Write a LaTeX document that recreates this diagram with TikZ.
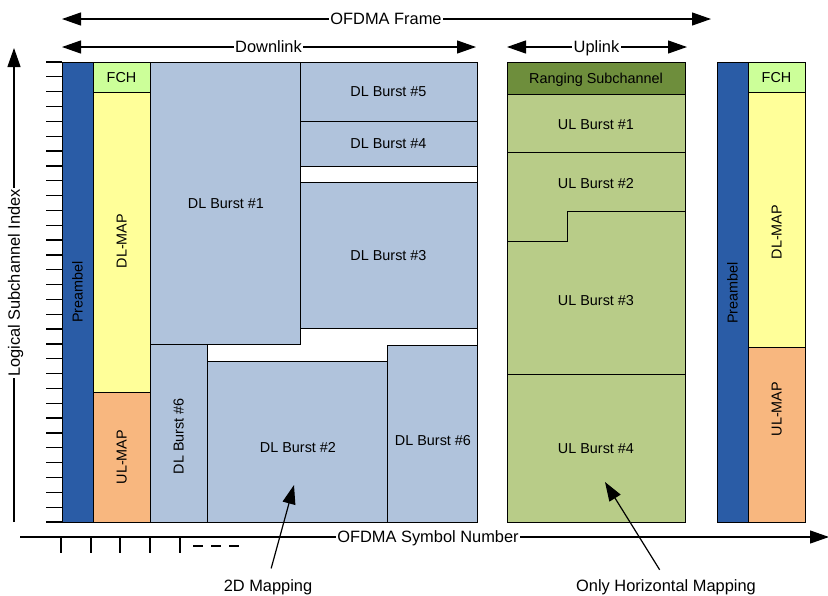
\documentclass[tikz,border=0pt]{standalone}
\usepackage{fontspec}
\setmainfont{Liberation Sans}
\usetikzlibrary{arrows.meta}
\definecolor{preC}{HTML}{2A5CA6}
\definecolor{fchC}{HTML}{CCFF99}
\definecolor{dlmapC}{HTML}{FFFF99}
\definecolor{ulmapC}{HTML}{F8B77F}
\definecolor{dlC}{HTML}{B0C3DC}
\definecolor{ulC}{HTML}{B8CC88}
\definecolor{rngC}{HTML}{6E8E3C}
\begin{document}
\begin{tikzpicture}[x=1pt,y=-1pt,
  box/.style={draw=black, line width=0.9pt},
  bl/.style={font=\fontsize{14.4}{16}\selectfont, inner sep=0pt, text height=10.3pt, text depth=0pt},
  al/.style={font=\fontsize{16.4}{18}\selectfont, inner sep=1.5pt, text height=11.7pt, text depth=0pt, fill=white},
  tipA/.tip={Triangle[length=19pt,width=13pt]},
  dimarrow/.style={line width=1.2pt, tipA-tipA},
  axisarrow/.style={line width=1.2pt, -tipA},
  tickline/.style={line width=1.3pt},
]
\useasboundingbox (0,0) rectangle (828,595);

% ---------- Downlink frame ----------
\filldraw[box, fill=preC]   (62,62) rectangle (93,522);
\filldraw[box, fill=fchC]   (93,62) rectangle (150,92);
\filldraw[box, fill=dlmapC] (93,92) rectangle (150,392);
\filldraw[box, fill=ulmapC] (93,392) rectangle (150,522);
\filldraw[box, fill=dlC] (150,62) rectangle (300,344);
\filldraw[box, fill=dlC] (300,62) rectangle (477,121);
\filldraw[box, fill=dlC] (300,121) rectangle (477,166);
\filldraw[box, fill=dlC] (300,182) rectangle (477,328);
\filldraw[box, fill=dlC] (150,344) rectangle (207,522);
\filldraw[box, fill=dlC] (207,361) rectangle (387,522);
\filldraw[box, fill=dlC] (387,345) rectangle (477,522);
\draw[box] (150,62) rectangle (477,522);

\node[bl, rotate=90] (pre1) at (77.5,292) {Preambel};
\node[bl] (fch1) at (121.5,77) {FCH};
\node[bl, rotate=90] (dlmap1) at (121.5,241) {DL-MAP};
\node[bl, rotate=90] (ulmap1) at (121.5,457) {UL-MAP};
\node[bl] (b1) at (226,203) {DL Burst \#1};
\node[bl] (b5) at (388.5,91) {DL Burst \#5};
\node[bl] (b4) at (388.5,143.5) {DL Burst \#4};
\node[bl] (b3) at (388.5,255) {DL Burst \#3};
\node[bl, rotate=90] (b6v) at (178.5,436) {DL Burst \#6};
\node[bl] (b2) at (298,447) {DL Burst \#2};
\node[bl] (b6) at (433,440) {DL Burst \#6};

% ---------- Uplink frame ----------
\filldraw[box, fill=ulC] (507,62) rectangle (685,522);
\filldraw[box, fill=rngC] (507,62) rectangle (685,94);
\draw[box] (507,152) -- (685,152);
\draw[box] (507,241) -- (567,241) -- (567,211) -- (685,211);
\draw[box] (507,374) -- (685,374);
\node[bl] (rng) at (596,78) {Ranging Subchannel};
\node[bl] (u1) at (596,124) {UL Burst \#1};
\node[bl] (u2) at (596,183) {UL Burst \#2};
\node[bl] (u3) at (596,300) {UL Burst \#3};
\node[bl] (u4) at (596,448) {UL Burst \#4};

% ---------- Next frame ----------
\filldraw[box, fill=preC]   (717,62) rectangle (748,522);
\filldraw[box, fill=fchC]   (748,62) rectangle (805,92);
\filldraw[box, fill=dlmapC] (748,92) rectangle (805,347);
\filldraw[box, fill=ulmapC] (748,347) rectangle (805,522);
\node[bl, rotate=90] (pre2) at (732.5,293) {Preambel};
\node[bl] (fch2) at (776.5,77) {FCH};
\node[bl, rotate=90] (dlmap2) at (776.5,232) {DL-MAP};
\node[bl, rotate=90] (ulmap2) at (776.5,409) {UL-MAP};

% ---------- Dimension arrows ----------
\coordinate (frL) at (62,19);
\coordinate (frR) at (711,19);
\draw[dimarrow] (frL) -- (frR);
\node[al] (frame) at (386,19) {OFDMA Frame};
\coordinate (dlL) at (62,47);
\coordinate (dlR) at (476,47);
\draw[dimarrow] (dlL) -- (dlR);
\node[al] (down) at (268.5,47) {Downlink};
\coordinate (ulL) at (507,47);
\coordinate (ulR) at (687,47);
\draw[dimarrow] (ulL) -- (ulR);
\node[al] (up) at (596.5,47) {Uplink};

% ---------- Axes ----------
\coordinate (yB) at (14,522);
\coordinate (yT) at (14,48);
\draw[axisarrow] (yB) -- (yT);
\node[al, rotate=90] (ylab) at (14,283) {Logical Subchannel Index};
\foreach \i in {0,...,31} \draw[tickline] (46,{62+\i*460/31}) -- (62,{62+\i*460/31});

\coordinate (xL) at (20,537);
\coordinate (xR) at (829,537);
\draw[axisarrow] (xL) -- (xR);
\node[al] (xlab) at (428,537) {OFDMA Symbol Number};
\foreach \x in {61,91,120,150,180} \draw[tickline] (\x,537) -- (\x,553);
\draw[tickline, dash pattern=on 10pt off 8pt] (193,546) -- (241,546);

% ---------- Annotations ----------
\node[al, fill=none, inner sep=0pt] (m2d) at (268,586) {2D Mapping};
\coordinate (m2dT) at (294,485);
\draw[axisarrow, shorten <=12pt] (m2d.north) -- (m2dT);
\node[al, fill=none, inner sep=0pt] (mh) at (666,586) {Only Horizontal Mapping};
\coordinate (mhT) at (605,482);
\draw[axisarrow, shorten <=12pt] (mh.north) -- (mhT);
\end{tikzpicture}
\end{document}
